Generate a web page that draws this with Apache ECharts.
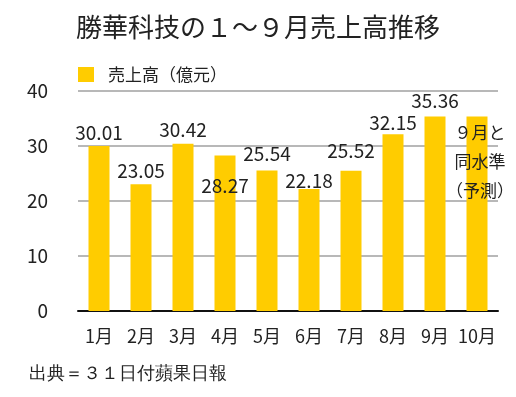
<!DOCTYPE html>
<html>
<head>
<meta charset="utf-8">
<script src="https://cdn.jsdelivr.net/npm/echarts@6/dist/echarts.min.js"></script>
<style>
  html, body { margin: 0; padding: 0; background: #ffffff; }
  #main { width: 516px; height: 397px; }
</style>
</head>
<body>
<div id="main"></div>
<script>
// データ（億元）
var months = ["1月", "2月", "3月", "4月", "5月", "6月", "7月", "8月", "9月", "10月"];
var sales = [30.01, 23.05, 30.42, 28.27, 25.54, 22.18, 25.52, 32.15, 35.36, 35.36];
var yTicks = [0, 10, 20, 30, 40];
var forecastNote = "９月と\n同水準\n（予測）";

// ラベルの上下ずらし（元画像に合わせる）
var labelShift = [0, 0, 0, 44, -3, 5, -6, 2, -2];

var font = "'Noto Sans CJK JP', 'Noto Sans', sans-serif";

var barData = sales.map(function (v, i) {
  if (i === sales.length - 1) {
    return {
      value: v,
      label: {
        show: true,
        position: "insideTop",
        distance: 2,
        offset: [3, 0],
        formatter: forecastNote,
        fontSize: 17,
        lineHeight: 29,
        color: "#222"
      }
    };
  }
  return {
    value: v,
    label: { offset: [0, labelShift[i]] }
  };
});

var myChart = echarts.init(document.getElementById("main"));
myChart.setOption({
  animation: false,
  textStyle: { fontFamily: font },
  title: {
    text: "勝華科技の１～９月売上高推移",
    left: "center",
    top: 9,
    textStyle: { fontSize: 26, fontWeight: "normal", color: "#222", fontFamily: font }
  },
  legend: {
    data: ["売上高（億元）"],
    left: 73,
    top: 61,
    icon: "rect",
    itemWidth: 16,
    itemHeight: 15,
    textStyle: { fontSize: 17, color: "#222", fontFamily: font, padding: [0, 0, 0, 9] }
  },
  grid: { left: 78, right: 18, top: 91, bottom: 86 },
  xAxis: {
    type: "category",
    data: months,
    axisLine: { lineStyle: { color: "#111", width: 2 } },
    axisTick: { show: false },
    axisLabel: { interval: 0, fontSize: 18, color: "#222", margin: 16, fontFamily: font }
  },
  yAxis: {
    type: "value",
    min: yTicks[0],
    max: yTicks[yTicks.length - 1],
    interval: 10,
    axisLine: { show: false },
    axisTick: { show: false },
    splitLine: { lineStyle: { color: "#b8b8b8", width: 2 } },
    axisLabel: { fontSize: 19, color: "#222", margin: 30, fontFamily: font }
  },
  graphic: [{
    type: "text",
    left: 29,
    top: 365,
    style: { text: "出典＝３１日付蘋果日報", fontSize: 18, fill: "#222", font: "18px " + font }
  }],
  series: [{
    name: "売上高（億元）",
    type: "bar",
    barWidth: "50%",
    data: barData,
    itemStyle: { color: "#FFCC00" },
    label: {
      show: true,
      position: "top",
      distance: 4,
      fontSize: 19,
      color: "#222",
      fontFamily: font
    }
  }]
});
</script>
</body>
</html>
